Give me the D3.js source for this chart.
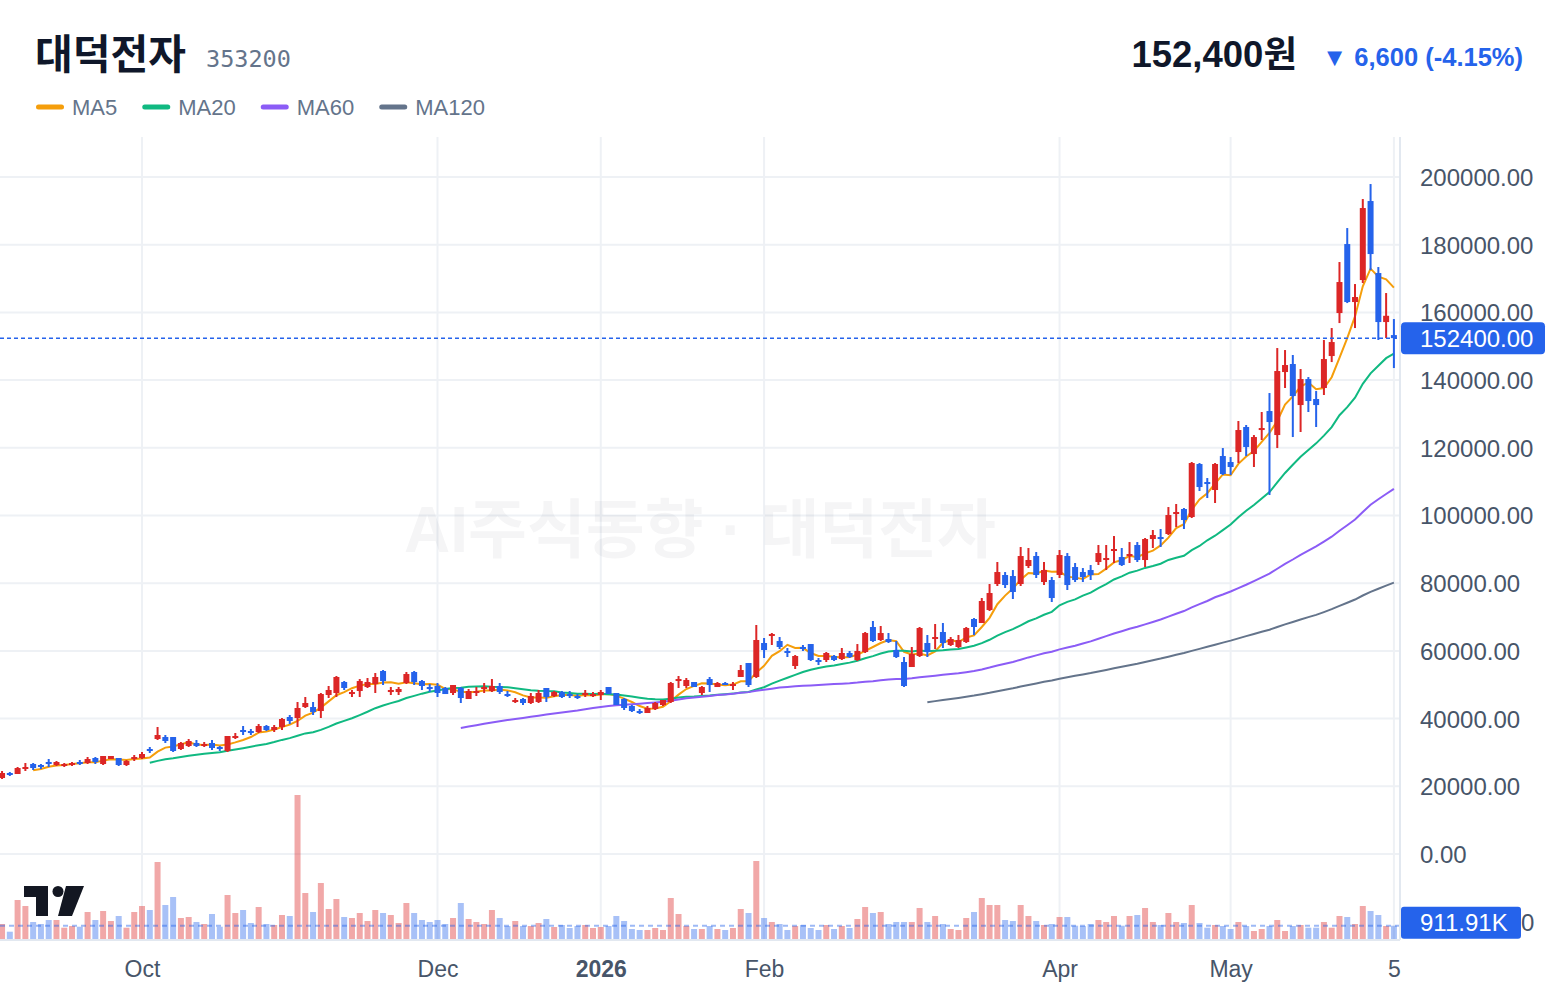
<!DOCTYPE html>
<html>
<head>
<meta charset="utf-8">
<script src="https://cdn.jsdelivr.net/npm/d3@7"></script>
<style>
  html, body { margin: 0; padding: 0; background: #fff; }
  svg { display: block; }
</style>
</head>
<body>
<div id="chart"></div>
<script>
// daily candles, oldest first (KRW)
const opens = [
  22450,23930,23630,25400,26590,26290,27180,26290,26290,26290,27180,26880,28360,26590,28060,28360,26290,28060,28360,31020,
  33970,34560,34560,31020,31900,32790,32200,32790,31610,30430,34560,36630,36330,36040,37810,36630,37520,40470,40170,43420,
  43420,42240,46970,47560,50810,47260,48150,49330,50220,54060,47850,47850,50510,53760,51100,49330,49630,49040,47560,49040,
  45790,47560,48740,48150,49630,47260,45200,45790,44610,44900,49040,46670,47850,47260,46670,47260,46670,46970,49330,47560,
  45790,43720,42240,41650,42830,44010,44900,51100,49630,50810,47560,51690,49330,50510,49920,52290,56420,52290,62330,64400,
  62920,59970,55540,61150,62030,57310,57310,58490,57600,59380,57310,59670,67060,63220,63510,60260,56720,55240,58490,62330,
  63810,65580,61740,61150,62620,69420,68240,72080,79760,82420,82120,79760,85080,88030,80350,80940,82420,88030,84780,83300,
  83890,86260,86850,89510,87730,88030,91280,86850,93050,93640,94530,100440,101910,99550,115210,109890,107530,117570,115800,118750,
  126140,118160,125250,130860,123770,142380,144750,132630,140310,134410,137660,147110,159810,180190,163060,169560,192900,171630,157150,153300
];
const highs = [
  24520,24220,25700,26880,26880,26590,28060,27470,26880,27180,27770,28650,28650,28950,28950,28360,27770,29240,30130,31610,
  37520,35150,34560,33080,33970,33680,33080,33680,31900,34860,35740,37810,36920,38400,38110,38110,40170,41060,44900,46380,
  44900,47560,49630,52580,51100,48450,51690,51990,53470,54350,49330,49330,53760,54060,51400,50220,50510,49330,49920,49330,
  48740,49330,50510,51690,50510,48150,46080,46080,47560,48450,49040,48150,48150,48150,47260,48450,47850,48450,49330,47560,
  46080,44010,42830,43720,44900,45490,50810,52580,51990,50810,49630,52290,50810,50810,50810,55830,56420,67650,63810,65290,
  64100,60850,58780,61740,62030,57900,59670,58780,60850,59970,62030,65580,68830,67350,65280,62920,58190,61150,67060,64690,
  67940,68240,64100,64690,67060,69710,75620,79760,86260,83300,83890,90690,90390,89210,86260,81830,89800,88910,85960,84480,
  85370,91280,91280,93940,90390,92160,92160,93350,95710,96010,102500,103390,102210,115800,115500,111070,115500,119930,117270,127910,
  126730,123770,130570,136180,149470,148880,147410,143270,140900,136770,151840,155380,174880,184920,168380,193490,197920,173400,165720,158040
];
const lows = [
  22160,23040,23630,24520,24810,25110,25700,26000,25700,26000,26290,26590,26590,26290,28060,26000,26000,27470,28060,29840,
  33680,32790,30130,30720,31610,31610,31610,30720,30430,30130,33970,35150,35150,35740,36330,36040,36630,38400,37520,43130,
  41060,40170,46080,46380,48450,46380,46380,49040,47560,49920,46970,46970,50220,49920,48450,47850,46380,47260,46970,44610,
  45790,46670,47560,47850,47260,46380,44610,44010,44310,44610,44900,46380,46080,46080,45790,46380,46380,45490,47260,44010,
  42540,41950,41360,41650,42540,43720,44610,49040,49040,49330,46970,47850,49330,49920,48450,52290,49330,51990,57900,61740,
  60560,58190,54650,59970,57010,55830,56720,57010,57310,57900,57010,59380,62620,62920,62330,57900,49330,55240,58190,58190,
  60560,60850,61440,60850,62330,64690,68240,71780,79170,78580,75330,79170,84480,81530,79460,74440,81530,77990,80350,80350,
  80940,85370,83890,85960,85080,85960,86260,84780,90390,90690,94230,96600,96010,99250,107230,105160,103690,111960,111960,115500,
  117570,114320,122300,106050,119930,137660,123180,124660,130570,126140,135590,145330,156850,162760,155380,168670,172510,151840,152420,143560
];
const closes = [
  23930,23340,25400,25700,25400,25700,26590,27180,26590,26880,26880,28060,27180,28950,28950,26290,27470,28650,29540,30430,
  35150,33380,30430,32790,33380,31900,32490,31310,31310,34860,34860,36040,35740,37810,36630,37520,39880,39290,43130,44610,
  41950,47260,48450,52290,49040,47850,51100,50810,52290,51100,48450,48740,53170,50810,49630,48740,47560,47260,49920,46080,
  48150,48150,49330,49630,47850,46670,45490,44610,46670,47560,46380,47850,46380,46670,46380,47560,47260,47850,47260,44010,
  43130,42240,41950,43130,44610,45490,50510,51690,51400,49330,49330,49920,50510,50220,50220,54350,49920,63220,60260,64990,
  61150,59380,58490,60560,57310,56720,59380,57310,59380,58190,59970,65280,62920,65280,62620,58190,49630,59080,66760,59670,
  64100,62330,63510,63220,66760,67060,74740,77100,83300,79460,77400,88030,86850,82420,83890,75620,88320,79460,80940,81830,
  82420,88910,87440,90100,85370,88620,86850,93050,94230,93050,100140,101030,98660,115500,108410,109300,115210,112250,114320,125250,
  120230,123180,125840,127610,142680,144450,135290,140310,133820,132630,146220,151240,168970,163060,164540,190830,177240,157150,159000,152400
];
// volume in thousands of shares
const volumesK = [
  1028,500,2674,2262,1166,1028,1303,1303,775,891,843,1851,1303,1920,1234,1577,775,1851,2262,1988,
  5279,2331,2880,1440,1508,1166,1028,1714,843,3017,1783,1988,1097,2194,1028,960,1645,1577,9873,3154,
  1851,3839,2057,2742,1508,1440,1783,1234,1988,1783,1645,1097,2468,1783,1303,1166,1303,1028,1440,2468,
  1371,1166,1028,1988,1440,891,1234,891,891,1097,1371,823,960,754,891,960,754,823,891,1577,
  1234,686,617,617,754,617,2811,1714,891,686,686,891,686,617,754,2057,1783,5348,1440,1166,
  1028,617,891,960,754,617,960,686,891,754,1371,2194,1783,1851,1028,1166,1166,1166,2125,1166,
  1577,1028,686,617,1440,1851,2811,2331,2331,1303,1234,2331,1577,1234,960,1028,1508,1508,912,891,
  1028,1303,1166,1577,912,1577,1645,2125,1166,960,1783,1166,1097,2331,1097,775,960,891,686,1166,
  891,548,686,891,1303,548,891,960,775,775,1166,775,1577,1508,1028,2262,1920,1645,891,911.91
];

const tickIndex = [18, 56, 77, 98, 136, 158, 179];
const tickLabels = ["Oct", "Dec", "2026", "Feb", "Apr", "May", "5"];
const boldTicks = ["2026"];
const priceTicks = d3.range(0, 200001, 20000);
const maPeriods = [5, 20, 60, 120];
const maNames = ["MA5", "MA20", "MA60", "MA120"];

const stockName = "대덕전자";
const stockCode = "353200";
const lastPrice = closes[closes.length - 1];
const prevClose = closes[closes.length - 2];

// styles
const UP = "#dc2626", DOWN = "#2563eb";
const maColors = ["#f59e0b", "#10b981", "#8b5cf6", "#64748b"];
const SANS = "'Liberation Sans', Arial, 'Noto Sans CJK KR', sans-serif";
const AXIS = "#475569";

const W = 1560, H = 996;
const plot = { left: 0, right: 1400, top: 137, bottom: 940 };

const svg = d3.select("#chart").append("svg").attr("width", W).attr("height", H)
  .style("font-family", SANS);

const n = closes.length;
const x = d3.scaleLinear().domain([0, n - 1]).range([2.05, 1393.9]);
const y = d3.scaleLinear().domain([0, 200000]).range([854, 177]);
const yv = d3.scaleLinear().domain([0, d3.max(volumesK)]).range([939, 795]);

// grid
const grid = svg.append("g");
grid.selectAll("line.h").data(priceTicks).join("line")
  .attr("x1", plot.left).attr("x2", plot.right)
  .attr("y1", d => y(d)).attr("y2", d => y(d))
  .attr("stroke", "#eef1f5").attr("stroke-width", 2);
grid.selectAll("line.v").data(tickIndex).join("line")
  .attr("x1", d => x(d)).attr("x2", d => x(d))
  .attr("y1", plot.top).attr("y2", plot.bottom)
  .attr("stroke", "#eef1f5").attr("stroke-width", 2);

// watermark
svg.append("text").attr("x", 700).attr("y", 530)
  .attr("text-anchor", "middle").attr("dominant-baseline", "central")
  .attr("font-size", 64).attr("font-weight", 700)
  .attr("fill", "#0f172a").attr("fill-opacity", 0.045)
  .text("AI주식동향 · " + stockName);

svg.append("clipPath").attr("id", "clip").append("rect")
  .attr("x", plot.left).attr("y", plot.top)
  .attr("width", plot.right - plot.left).attr("height", plot.bottom - plot.top);
const g = svg.append("g").attr("clip-path", "url(#clip)");

const isUp = i => closes[i] >= opens[i];
const idx = d3.range(n);

// volume
g.append("g").selectAll("rect").data(idx).join("rect")
  .attr("x", i => x(i) - 3).attr("width", 6)
  .attr("y", i => yv(volumesK[i])).attr("height", i => yv(0) - yv(volumesK[i]))
  .attr("fill", i => isUp(i) ? UP : DOWN).attr("fill-opacity", 0.4);

g.append("line").attr("x1", plot.left).attr("x2", plot.right)
  .attr("y1", yv(volumesK[n - 1])).attr("y2", yv(volumesK[n - 1]))
  .attr("stroke", DOWN).attr("stroke-opacity", 0.45).attr("stroke-width", 2)
  .attr("stroke-dasharray", "5,4");

// moving averages
maPeriods.forEach((p, k) => {
  const ma = closes.map((c, i) => i < p - 1 ? null : d3.mean(closes.slice(i - p + 1, i + 1)));
  const line = d3.line().defined(d => d != null).x((d, i) => x(i)).y(d => y(d));
  g.append("path").datum(ma).attr("d", line)
    .attr("fill", "none").attr("stroke", maColors[k]).attr("stroke-width", 2);
});

// candles
const cg = g.append("g");
cg.selectAll("line").data(idx).join("line")
  .attr("x1", i => x(i)).attr("x2", i => x(i))
  .attr("y1", i => y(highs[i])).attr("y2", i => y(lows[i]))
  .attr("stroke", i => isUp(i) ? UP : DOWN).attr("stroke-width", 2);
cg.selectAll("rect").data(idx).join("rect")
  .attr("x", i => x(i) - 3).attr("width", 6)
  .attr("y", i => Math.min(y(opens[i]), y(closes[i])))
  .attr("height", i => Math.max(2, Math.abs(y(opens[i]) - y(closes[i]))))
  .attr("fill", i => isUp(i) ? UP : DOWN);

// last price line
g.append("line").attr("x1", plot.left).attr("x2", plot.right)
  .attr("y1", y(lastPrice)).attr("y2", y(lastPrice))
  .attr("stroke", DOWN).attr("stroke-width", 1.5).attr("stroke-dasharray", "4,3");

// borders
svg.append("line").attr("x1", plot.right).attr("x2", plot.right)
  .attr("y1", plot.top).attr("y2", plot.bottom)
  .attr("stroke", "#e2e8f0").attr("stroke-width", 2);
svg.append("line").attr("x1", plot.left).attr("x2", plot.right)
  .attr("y1", plot.bottom).attr("y2", plot.bottom)
  .attr("stroke", "#e2e8f0").attr("stroke-width", 2);

// price axis
const yAxis = d3.axisRight(y).tickValues(priceTicks).tickFormat(d => d.toFixed(2))
  .tickSize(0).tickPadding(20);
const ya = svg.append("g").attr("transform", `translate(${plot.right},0)`).call(yAxis);
ya.select(".domain").remove();
ya.selectAll("text").attr("font-size", 24).attr("fill", AXIS)
  .attr("font-family", SANS).attr("dy", "0.35em");

// last price label
svg.append("rect").attr("x", plot.right + 1).attr("y", y(lastPrice) - 16)
  .attr("width", 144).attr("height", 32).attr("rx", 4).attr("fill", DOWN);
svg.append("text").attr("x", plot.right + 20).attr("y", y(lastPrice))
  .attr("dy", "0.35em").attr("font-size", 24).attr("fill", "#fff")
  .text(lastPrice.toFixed(2));

// last volume label
svg.append("text").attr("x", 1521).attr("y", yv(volumesK[n - 1]) - 3)
  .attr("dy", "0.35em").attr("font-size", 24).attr("fill", AXIS).text("0");
svg.append("rect").attr("x", plot.right + 1).attr("y", yv(volumesK[n - 1]) - 19)
  .attr("width", 120).attr("height", 32).attr("rx", 3).attr("fill", DOWN);
svg.append("text").attr("x", plot.right + 20).attr("y", yv(volumesK[n - 1]) - 3)
  .attr("dy", "0.35em").attr("font-size", 24).attr("fill", "#fff")
  .text(d3.format(".2f")(volumesK[n - 1]) + "K");

// time axis
const xAxis = d3.axisBottom(x).tickValues(tickIndex)
  .tickFormat(d => tickLabels[tickIndex.indexOf(d)]).tickSize(0).tickPadding(0);
const xa = svg.append("g").attr("transform", `translate(0,${plot.bottom})`).call(xAxis);
xa.select(".domain").remove();
xa.selectAll("text").attr("y", 29).attr("dy", "0.35em")
  .attr("font-size", 23).attr("fill", AXIS).attr("font-family", SANS)
  .attr("font-weight", d => boldTicks.includes(tickLabels[tickIndex.indexOf(d)]) ? 700 : 400);

// header
svg.append("text").attr("x", 35).attr("y", 69)
  .attr("font-family", "'Noto Sans CJK KR', sans-serif").attr("font-weight", 700)
  .attr("font-size", 41).attr("fill", "#0f172a").text(stockName);
svg.append("text").attr("x", 206).attr("y", 67)
  .attr("font-family", "'DejaVu Sans Mono', monospace").attr("font-size", 23.5)
  .attr("fill", "#64748b").text(stockCode);

const change = lastPrice - prevClose;
const pct = change / prevClose * 100;
svg.append("text").attr("x", 1523).attr("y", 66).attr("text-anchor", "end")
  .attr("font-size", 25.5).attr("font-weight", 700).attr("fill", DOWN)
  .text(`▼ ${d3.format(",")(Math.abs(change))} (${pct.toFixed(2)}%)`);
svg.append("text").attr("x", 1297).attr("y", 67).attr("text-anchor", "end")
  .attr("font-size", 36.5).attr("font-weight", 700).attr("fill", "#0f172a")
  .text(d3.format(",")(lastPrice) + "원");

// legend
let lx = 36;
maNames.forEach((name, k) => {
  svg.append("rect").attr("x", lx).attr("y", 104.5).attr("width", 28).attr("height", 5)
    .attr("rx", 2.5).attr("fill", maColors[k]);
  const t = svg.append("text").attr("x", lx + 36).attr("y", 107).attr("dy", "0.35em")
    .attr("font-size", 22).attr("fill", "#64748b").text(name);
  lx += 36 + t.node().getComputedTextLength() + 25;
});

// logo
const logo = svg.append("g").attr("fill", "#131722");
logo.append("path").attr("d", "M24,886H48V916H36V897H24Z");
logo.append("circle").attr("cx", 58).attr("cy", 891.5).attr("r", 5.5);
logo.append("path").attr("d", "M66,886H84L72,916H58Z");
</script>
</body>
</html>
